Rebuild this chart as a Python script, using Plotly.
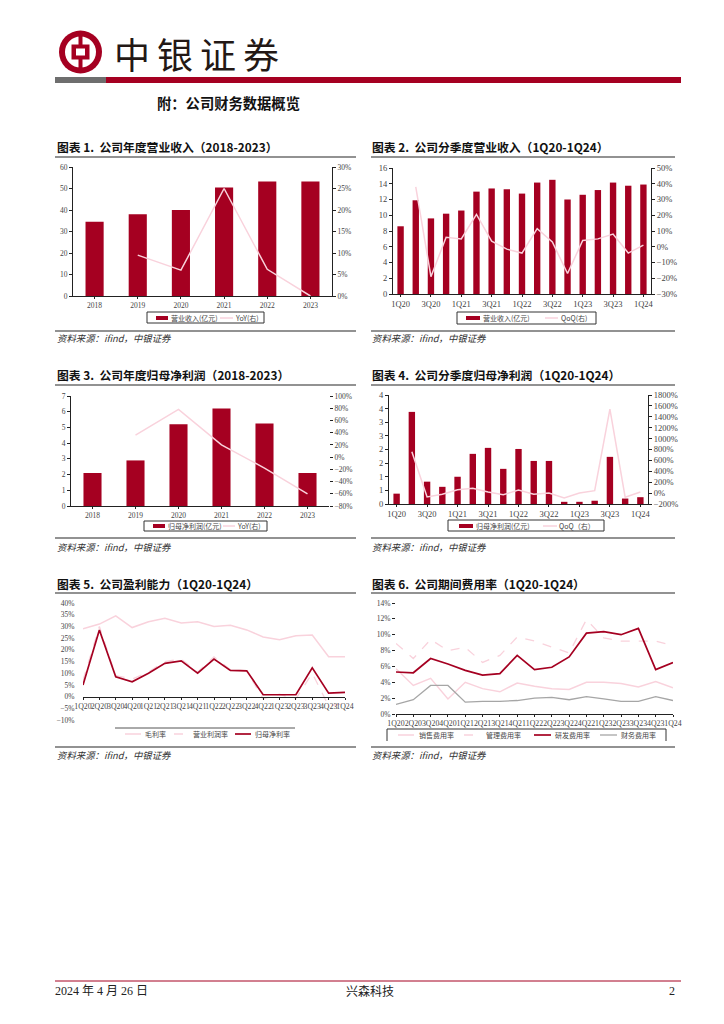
import plotly.graph_objects as go

years = ["2018", "2019", "2020", "2021", "2022", "2023"]
quarters = ["1Q20","2Q20","3Q20","4Q20","1Q21","2Q21","3Q21","4Q21","1Q22","2Q22","3Q22","4Q22","1Q23","2Q23","3Q23","4Q23","1Q24"]
quarter_ticks = quarters[::2]

rev_year = [34.5, 38, 40, 50.5, 53.3, 53.3]
rev_year_yoy = [None, 9.5, 6, 25, 6.2, 0]
rev_q = [8.6, 11.9, 9.6, 10.2, 10.6, 13.0, 13.4, 13.3, 12.75, 14.15, 14.5, 12.0, 12.6, 13.2, 14.15, 13.75, 13.9]
rev_q_qoq = [None, 38, -19, 6, 5, 20.5, 3.5, -1.5, -4, 11.5, 3, -17, 4, 5, 8, -4, 1]
np_year = [2.1, 2.9, 5.2, 6.2, 5.25, 2.1]
np_year_yoy = [None, 36, 78, 20, -18, -60]
np_q = [0.38, 3.38, 0.82, 0.63, 1.0, 1.84, 2.06, 1.29, 2.02, 1.58, 1.58, 0.08, 0.08, 0.12, 1.73, 0.2, 0.25]
np_q_qoq = [None, 760, -70, -20, 60, 90, 20, -30, 55, -20, 0, -90, 0, 45, 1540, -75, 20]
gross = [29, 31, 34.5, 29.5, 32, 33.5, 31.5, 32, 30, 30.5, 28.5, 25.5, 24.3, 26, 26.3, 17, 17]
op_margin = [7, 30, 9, 7.5, 10.5, 15, 16, 10.5, 17, 11.5, 11, -1, 1, -1, 10, -4, -3]
net_margin = [5, 28.5, 8.5, 6.3, 10, 14.2, 15.3, 10, 16, 11.2, 11, 0.8, 0.8, 0.8, 12.3, 1.5, 1.8]
sales_fee = [5.7, 3.6, 4.5, 1.9, 4, 3.2, 2.8, 3.9, 3.5, 3.2, 3.1, 4, 4, 3.85, 3.4, 4.1, 3.3]
admin_fee = [8.9, 7, 9.4, 8, 8.4, 6.5, 7.4, 9.7, 9.2, 8.5, 7.7, 11.9, 9.6, 9.2, 9.2, 9.2, 8.6]
rd_fee = [5.3, 5.2, 7, 6.3, 5.5, 4.9, 5.1, 7.4, 5.6, 5.9, 7.2, 10.2, 10.4, 10, 10.8, 5.6, 6.5]
fin_fee = [1.2, 1.8, 3.6, 3.6, 1.5, 1.6, 1.6, 1.7, 2, 2.1, 1.8, 2.2, 1.9, 1.6, 1.6, 2.2, 1.7]

W, H = 724, 1024
RED = "#A50021"
PINK = "#F9D2DC"
SERIF = "Liberation Serif, Noto Sans CJK SC"
CJK = "Noto Sans CJK SC, Liberation Serif"
TICK = dict(family=SERIF, size=7.5, color="#444444")
TICKB = dict(family=SERIF, size=8.5, color="#444444")
TICKQ = dict(family=SERIF, size=7.8, color="#444444")

def px(x): return x / W
def py(y): return 1 - y / H

fig = go.Figure()
shapes, annos = [], []

def rect(x0, y0, x1, y1, fill, line=None):
    shapes.append(dict(type="rect", xref="paper", yref="paper", x0=px(x0), x1=px(x1), y0=py(y0), y1=py(y1),
                       fillcolor=fill, line=dict(width=0 if line is None else 1, color=line or fill)))

def hline(x0, x1, y, color="#6E6E6E", width=1.5, dash="solid"):
    shapes.append(dict(type="line", xref="paper", yref="paper", x0=px(x0), x1=px(x1), y0=py(y), y1=py(y),
                       line=dict(color=color, width=width, dash=dash)))

def text(x, y, s, size, color="#111111", family=CJK, anchor="left"):
    annos.append(dict(xref="paper", yref="paper", x=px(x), y=py(y), text=s, showarrow=False, xanchor=anchor,
                      yanchor="middle", font=dict(size=size, color=color, family=family), borderpad=0, borderwidth=0))

def set_axes(i, box, font, xticks=None, **kw):
    x0, y0, x1, y1 = box
    xa = dict(domain=[px(x0), px(x1)], anchor=f"y{i}", type="category", showgrid=False, tickfont=font,
              showline=True, linecolor="#222222", linewidth=1, ticks="outside", ticklen=2, tickwidth=1, tickcolor="#222222",
              tickangle=0, zeroline=False, tickmode="array", tickvals=xticks, ticktext=xticks)
    xa.update(kw)
    ya = dict(domain=[py(y1), py(y0)], anchor=f"x{i}", showgrid=False, zeroline=False, tickfont=font,
              showline=True, linecolor="#222222", linewidth=1, ticks="outside", ticklen=3, tickwidth=1, tickcolor="#222222")
    fig.update_layout({f"xaxis{i}": xa, f"yaxis{i}": ya})

def set_right(j, i, rng, dt, font, line=True):
    ya = dict(domain=fig.layout[f"yaxis{i}"].domain, overlaying=f"y{i}", side="right", anchor=f"x{i}", range=rng, dtick=dt,
              ticksuffix="%", showgrid=False, zeroline=False, tickfont=font, showline=line, linecolor="#222222", linewidth=1,
              ticks="outside", ticklen=3, tickwidth=1, tickcolor="#222222")
    fig.update_layout({f"yaxis{j}": ya})

def combo(i, j, cats, bars, line, box, lrng, rrng, rdt, bname, lname, ldt, font, xticks, gap=0.58, rline=True):
    set_axes(i, box, font, xticks)
    fig.update_layout({f"yaxis{i}": dict(range=lrng, dtick=ldt)})
    set_right(j, i, rrng, rdt, font, rline)
    fig.add_trace(go.Bar(x=cats, y=bars, name=bname, marker=dict(color=RED, line=dict(width=0)), width=1 - gap,
                         xaxis=f"x{i}", yaxis=f"y{i}"))
    fig.add_trace(go.Scatter(x=cats, y=line, name=lname, mode="lines", line=dict(color=PINK, width=1.5),
                             xaxis=f"x{i}", yaxis=f"y{j}"))

def box_outline(x0, y0, x1, y1):
    rect(x0, y0, x1, y1, "rgba(0,0,0,0)", "#333333")

def key_bar(x0, x1, y, label, tx):
    rect(x0, y - 2, x1, y + 2, RED)
    text(tx, y, label, 7, "#444444")

def key_line(x0, x1, y, label, tx, color=PINK, width=1.5, dash="solid"):
    hline(x0, x1, y, color, width, dash)
    text(tx, y, label, 7, "#444444")

combo(1, 7, years, rev_year, rev_year_yoy, (73, 167, 332, 296), [0, 60], [0, 30], 5, "营业收入(亿元)", "YoY(右)", 10, TICK, years)
box_outline(147, 312, 264, 323)
key_bar(156, 168, 318, "营业收入(亿元)", 171)
key_line(220, 233, 318, "YoY(右)", 235)

combo(2, 8, quarters, rev_q, rev_q_qoq, (393, 168, 651, 294), [0, 16], [-30, 50], 10, "营业收入(亿元)", "QoQ(右)", 2, TICKB, quarter_ticks)
box_outline(457, 312, 596, 324)
key_bar(466, 480, 318, "营业收入(亿元)", 483)
key_line(545, 558, 318, "QoQ(右)", 561)

combo(3, 9, years, np_year, np_year_yoy, (71, 396, 329, 506), [0, 7], [-80, 100], 20, "归母净利润(亿元)", "YoY(右)", 1, TICK, years, rline=False)
box_outline(144, 521, 267, 531)
key_bar(153, 165, 526, "归母净利润(亿元)", 168)
key_line(223, 235, 526, "YoY(右)", 237)

combo(4, 10, quarters, np_q, np_q_qoq, (389, 395, 648, 504), [0, 4], [-200, 1800], 200, "归母净利润(亿元)", "QoQ（右）", 0.5, TICKB, quarter_ticks)
fig.update_layout(yaxis4=dict(tickmode="array", tickvals=[0, .5, 1, 1.5, 2, 2.5, 3, 3.5, 4], ticktext=["0", "1", "1", "2", "2", "3", "3", "4", "4"]))
box_outline(448, 520, 604, 531)
key_bar(459, 473, 526, "归母净利润(亿元)", 476)
key_line(543, 557, 526, "QoQ（右）", 559)

# chart 5
box5 = (83, 603, 345, 720)
set_axes(5, box5, TICK, quarters)
fig.update_layout(
    xaxis5=dict(anchor="free", position=py(697), tickfont=TICKQ),
    yaxis5=dict(range=[-10, 40], dtick=5, ticksuffix="%", ticklen=6, tickcolor="rgba(0,0,0,0)", showline=False))
for s, n, c, w, d in [(gross, "毛利率", PINK, 1.5, "solid"), (op_margin, "营业利润率", PINK, 1.3, "dash"), (net_margin, "归母净利率", RED, 1.7, "solid")]:
    fig.add_trace(go.Scatter(x=quarters, y=s, name=n, mode="lines", line=dict(color=c, width=w, dash=d),
                             xaxis="x5", yaxis="y5"))
hline(115, 295, 728, "#555555", 1)
key_line(125, 141, 734, "毛利率", 145)
key_line(174, 190, 734, "营业利润率", 193, dash="dash")
key_line(235, 251, 734, "归母净利率", 255, RED, 1.7)

# chart 6
box6 = (396, 603, 673, 714)
set_axes(6, box6, TICK, quarters)
fig.update_layout(xaxis6=dict(tickfont=TICKQ),
                  yaxis6=dict(range=[0, 14], dtick=2, ticksuffix="%", ticklen=3, showline=False))
for s, n, c, w, d in [(sales_fee, "销售费用率", PINK, 1.5, "solid"), (admin_fee, "管理费用率", PINK, 1.3, "dash"),
                      (rd_fee, "研发费用率", RED, 1.7, "solid"), (fin_fee, "财务费用率", "#A6A6A6", 1.3, "solid")]:
    fig.add_trace(go.Scatter(x=quarters, y=s, name=n, mode="lines", line=dict(color=c, width=w, dash=d),
                             xaxis="x6", yaxis="y6"))
shapes.append(dict(type="path", xref="paper", yref="paper", line=dict(color="#333333", width=1),
                   path=f"M {px(387)} {py(741)} L {px(387)} {py(729)} L {px(666)} {py(729)} L {px(666)} {py(741)}"))
key_line(398, 414, 735, "销售费用率", 419)
key_line(464, 481, 735, "管理费用率", 486, dash="dash")
key_line(534, 551, 735, "研发费用率", 555, RED, 1.7)
key_line(600, 617, 735, "财务费用率", 621, "#A6A6A6", 1.3)

# panel titles and rules
titles = [(57, 146.5, "图表 1.  公司年度营业收入（2018-2023）", 55, 356, 157, 331, 338),
          (372, 146.5, "图表 2.  公司分季度营业收入（1Q20-1Q24）", 371, 675, 157, 331, 338),
          (57, 374.5, "图表 3.  公司年度归母净利润（2018-2023）", 55, 356, 385, 538, 547),
          (372, 374.5, "图表 4.  公司分季度归母净利润（1Q20-1Q24）", 371, 675, 385, 538, 547),
          (57, 583.5, "图表 5.  公司盈利能力（1Q20-1Q24）", 55, 356, 593, 747, 755),
          (372, 583.5, "图表 6.  公司期间费用率（1Q20-1Q24）", 371, 675, 593, 747, 755)]
for tx, ty, s, a, b, r1, r2, sy in titles:
    text(tx, ty, f"<b>{s}</b>", 11.8)
    hline(a, b, r1)
    hline(a, b, r2)
    text(tx, sy, "<i>资料来源：ifind，中银证券</i>", 9.4, "#333333")

# header
cx, cy = 80.5, 52
shapes.append(dict(type="circle", xref="paper", yref="paper", x0=px(cx-21.5), x1=px(cx+21.5), y0=py(cy+21.5), y1=py(cy-21.5), fillcolor=RED, line=dict(width=0)))
shapes.append(dict(type="circle", xref="paper", yref="paper", x0=px(cx-15.5), x1=px(cx+15.5), y0=py(cy+15.5), y1=py(cy-15.5), fillcolor="white", line=dict(width=0)))
rect(cx-2, cy-20, cx+2, cy+20, RED)
rect(cx-9, cy-7.5, cx+9, cy+7.5, RED)
rect(cx-4.5, cy-3.5, cx+4.5, cy+3.5, "white")
for lx, ch in zip([132, 175, 218, 261], "中银证券"):
    text(lx, 53, ch, 36, "#231815", "Noto Sans CJK SC", "center")
rect(55, 77, 106, 83, "#6E6E6E")
rect(106, 77, 681, 83, RED)
text(157, 102, "<b>附：公司财务数据概览</b>", 14.3)

# footer
hline(55, 681, 981, RED, 1)
text(55, 991, "2024 年 4 月 26 日", 12, "#222222", SERIF)
text(369.5, 990, "兴森科技", 12, "#222222", CJK, "center")
text(675, 991, "2", 12, "#222222", SERIF, "right")

fig.update_layout(width=W, height=H, autosize=False, margin=dict(l=0, r=0, t=0, b=0, autoexpand=False), paper_bgcolor="white",
                  plot_bgcolor="rgba(0,0,0,0)", shapes=shapes, annotations=annos, barmode="overlay", showlegend=False)
fig.write_html("out.html", config={"displayModeBar": False},
               post_script="document.body.style.margin='0';document.documentElement.style.overflow='hidden';")
